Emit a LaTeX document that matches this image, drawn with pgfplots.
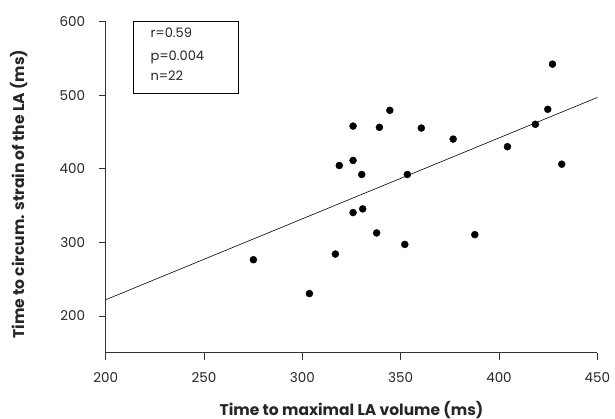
\documentclass[border=0pt]{standalone}
\usepackage{pgfplots}
\pgfplotsset{compat=1.18}
\usepackage{fontspec}
\setmainfont{Poppins}
\begin{document}
\begin{tikzpicture}
\path[use as bounding box] (-105.7pt,-66.3pt) rectangle (509.3pt,352.7pt);
\begin{axis}[
  at={(0pt,0pt)}, anchor=south west,
  scale only axis, width=491.6pt, height=331pt,
  xmin=200, xmax=450, ymin=150, ymax=600,
  axis x line*=bottom, axis y line*=left,
  axis line style={draw=black!80, line width=0.8pt},
  xtick={200,250,...,450}, ytick={200,300,...,600},
  tick align=outside, major tick length=7pt,
  tick style={black!80, line width=0.8pt},
  /pgf/number format/assume math mode=true,
  ticklabel style={font=\fontsize{13.5}{15}\selectfont, text=black!85},
  xticklabel style={yshift=-9pt},
  yticklabel style={xshift=-10pt},
  xlabel={\bfseries Time to maximal LA volume (ms)},
  ylabel={\bfseries Time to circum. strain of the LA (ms)},
  label style={font=\fontsize{15.5}{17}\selectfont, text=black!85},
  xlabel style={at={(axis description cs:0.5,-0.172)}, anchor=center},
  ylabel style={at={(axis description cs:-0.177,0.479)}, anchor=center},
  clip=false,
]
\addplot[only marks, mark=*, mark size=3.5pt, black] coordinates {
(275.1,276.4) (303.6,230.4) (316.8,284.1) (318.8,404.5) (325.8,458.1)
(325.8,411.4) (330.2,392.3) (325.8,340.5) (330.7,345.5) (337.8,312.8)
(339.2,456.4) (344.5,479.5) (353.4,392.3) (352.1,297.2) (360.5,455.4)
(376.7,440.4) (387.7,310.5) (404.3,430.1) (418.5,460.5) (424.8,480.9)
(427.2,542.3) (431.9,406.3)
};
\addplot[black, line width=0.6pt] coordinates {(200,222) (450,497)};
\draw[black, line width=0.6pt] (axis cs:214,600) rectangle (axis cs:267.4,502.3);
\node[anchor=base west, font=\fontsize{13}{15}\selectfont, text=black!85] at (axis cs:221,578.2) {r=0.59};
\node[anchor=base west, font=\fontsize{13}{15}\selectfont, text=black!85] at (axis cs:221,547.8) {p=0.004};
\node[anchor=base west, font=\fontsize{13}{15}\selectfont, text=black!85] at (axis cs:221,520.5) {n=22};
\end{axis}
\end{tikzpicture}
\end{document}
